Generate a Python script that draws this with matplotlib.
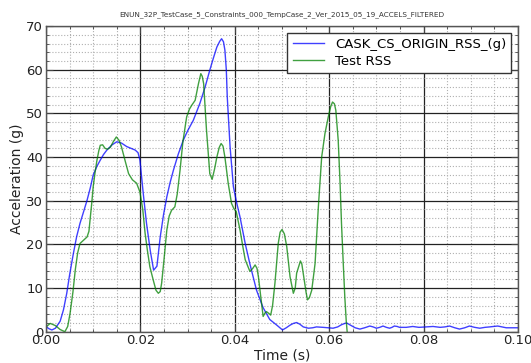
import matplotlib
matplotlib.use("Agg")
import matplotlib.pyplot as plt
from matplotlib.ticker import MultipleLocator

title = "ENUN_32P_TestCase_5_Constraints_000_TempCase_2_Ver_2015_05_19_ACCELS_FILTERED"

# CASK_CS_ORIGIN_RSS_(g)
t_cask = [0.000, 0.0006, 0.00125, 0.002, 0.003, 0.0037, 0.0044, 0.005, 0.0058, 0.0065,
          0.0072, 0.008, 0.0087, 0.0094, 0.010, 0.0108, 0.0115, 0.0122, 0.0129, 0.014,
          0.015, 0.016, 0.0171, 0.018, 0.0189, 0.0195, 0.0199, 0.0206, 0.0213, 0.0221,
          0.0228, 0.0235, 0.0242, 0.0249, 0.0256, 0.0263, 0.027, 0.028, 0.0291, 0.030,
          0.0312, 0.0326, 0.0337, 0.0347, 0.0355, 0.0362, 0.0368, 0.0372, 0.0376, 0.0379,
          0.0382, 0.0384, 0.0387, 0.039, 0.0397, 0.0404, 0.0411, 0.0422, 0.0432, 0.0446,
          0.046, 0.0474, 0.0489, 0.0501, 0.0509, 0.0517, 0.0524, 0.0531, 0.0538, 0.0545,
          0.0556, 0.0565, 0.0573, 0.0587, 0.0598, 0.0608, 0.0618, 0.0626, 0.0633, 0.0637,
          0.0645, 0.0655, 0.0665, 0.0675, 0.0686, 0.0693, 0.070, 0.0707, 0.0714, 0.0721,
          0.0728, 0.0733, 0.0738, 0.0744, 0.0749, 0.0763, 0.0777, 0.079, 0.0805, 0.082,
          0.0835, 0.0845, 0.0855, 0.0866, 0.0876, 0.0887, 0.0897, 0.0908, 0.0919, 0.093,
          0.094, 0.0948, 0.0957, 0.0966, 0.0975, 0.0988, 0.100]
y_cask = [1.2, 0.7, 0.4, 0.8, 2.4, 5.0, 8.8, 13.0, 17.9, 21.8,
          24.8, 27.6, 30.1, 33.0, 35.9, 37.9, 39.3, 40.6, 41.6, 42.8,
          43.5, 43.2, 42.4, 42.0, 41.6, 41.0, 39.3, 31.7, 24.8, 18.5,
          14.1, 15.0, 21.7, 26.8, 30.9, 34.2, 37.0, 40.6, 43.9, 46.0,
          48.4, 52.3, 56.0, 59.9, 62.8, 65.2, 66.5, 67.1, 66.4, 64.5,
          60.0, 53.8, 48.0, 42.3, 33.2, 29.5, 26.3, 20.2, 15.5, 9.5,
          5.5, 2.8, 1.5, 0.4, 0.9, 1.5, 1.9, 2.1, 1.7, 1.1,
          0.8, 0.9, 1.1, 1.0, 0.9, 0.8, 1.1, 1.6, 1.9, 2.0,
          1.5, 0.9, 0.6, 0.9, 1.3, 1.1, 0.8, 1.0, 1.3, 1.0,
          0.8, 1.0, 1.3, 1.2, 1.0, 1.0, 1.2, 1.0, 1.1, 1.2,
          1.0, 1.1, 1.3, 0.9, 0.6, 0.9, 1.3, 1.0, 0.8, 1.0,
          1.1, 1.2, 1.3, 1.1, 0.9, 0.9, 0.9]

# Test RSS
t_test = [0.000, 0.0009, 0.002, 0.003, 0.004, 0.0046, 0.0051, 0.0057, 0.0062, 0.0067,
          0.0072, 0.008, 0.0087, 0.0091, 0.0094, 0.0097, 0.010, 0.0104, 0.0108, 0.0112,
          0.0115, 0.012, 0.0125, 0.013, 0.0136, 0.0143, 0.0149, 0.0155, 0.016, 0.0168,
          0.0175, 0.0183, 0.0192, 0.0199, 0.0205, 0.021, 0.0215, 0.022, 0.0228, 0.0233,
          0.0238, 0.0242, 0.0245, 0.025, 0.0256, 0.0261, 0.0266, 0.0273, 0.0278, 0.0284,
          0.029, 0.0298, 0.0304, 0.0309, 0.0316, 0.0323, 0.0328, 0.0331, 0.0334, 0.0337,
          0.034, 0.0344, 0.0347, 0.0352, 0.0357, 0.0362, 0.0367, 0.0371, 0.0375, 0.0379,
          0.0386, 0.0393, 0.0398, 0.0403, 0.0411, 0.0417, 0.0422, 0.0432, 0.0438, 0.0443,
          0.0447, 0.045, 0.0455, 0.046, 0.0464, 0.0467, 0.0472, 0.0476, 0.048, 0.0485,
          0.0492, 0.0496, 0.050, 0.0505, 0.051, 0.0517, 0.0524, 0.0528, 0.0531, 0.0539,
          0.0542, 0.0546, 0.0551, 0.0554, 0.0558, 0.0563, 0.057, 0.0577, 0.0584, 0.0591,
          0.0598, 0.0603, 0.0607, 0.0611, 0.0614, 0.0619, 0.0623, 0.0626, 0.063, 0.0633,
          0.0636, 0.0638]
y_test = [1.1, 1.9, 1.4, 0.5, 0.0, 1.2, 4.2, 9.0, 14.1, 18.0,
          20.2, 21.0, 21.7, 23.0, 26.3, 29.5, 33.2, 36.5, 39.3, 41.5,
          42.7, 42.8, 42.0, 41.8, 42.2, 43.6, 44.6, 43.8, 42.3, 39.0,
          36.2, 34.8, 34.0, 32.0, 28.0, 22.5, 18.5, 14.9, 11.5, 9.5,
          8.8, 9.2, 11.1, 16.5, 23.3, 26.5, 27.8, 28.6, 31.5, 37.0,
          43.5, 49.2, 51.0, 51.9, 53.0, 56.8, 59.1, 58.5, 56.8, 51.5,
          46.2, 40.5, 36.2, 34.9, 37.2, 40.0, 42.2, 43.1, 42.5, 40.0,
          34.0, 29.4, 28.2, 27.5, 23.3, 19.5, 16.5, 13.8, 14.5, 15.3,
          14.5, 12.6, 8.0, 3.5, 4.3, 4.6, 4.2, 3.8, 6.0, 11.1,
          20.2, 22.8, 23.4, 22.4, 19.5, 12.6, 8.8, 10.0, 13.4, 16.2,
          15.5, 12.6, 9.0, 7.3, 7.8, 9.5, 15.6, 28.6, 40.0, 45.4,
          49.2, 51.5, 52.6, 52.2, 50.7, 43.9, 34.0, 24.8, 15.0, 8.0,
          2.5, 0.0]

fig = plt.figure(figsize=(5.31, 3.63), dpi=100)
ax = fig.add_axes([0.0866, 0.0862, 0.889, 0.842])

ax.plot(t_cask, y_cask, color=(0, 0, 1, 0.75), lw=1.0, label="CASK_CS_ORIGIN_RSS_(g)")
ax.plot(t_test, y_test, color=(0, 0.5, 0, 0.75), lw=1.0, label="Test RSS")

ax.set_xlim(0, 0.1)
ax.set_ylim(0, 70)
ax.xaxis.set_major_locator(MultipleLocator(0.02))
ax.xaxis.set_minor_locator(MultipleLocator(0.005))
ax.yaxis.set_major_locator(MultipleLocator(10))
ax.yaxis.set_minor_locator(MultipleLocator(2))
ax.xaxis.set_major_formatter(matplotlib.ticker.FormatStrFormatter("%.2f"))

ax.grid(which="major", color="#222222", linestyle="-", linewidth=0.9)
ax.grid(which="minor", color="#b0b0b0", linestyle=":", linewidth=0.8)
ax.set_axisbelow(True)
ax.tick_params(which="both", direction="in", top=True, right=True, colors="#444444",
               labelcolor="#222222", labelsize=9.5, pad=2)
ax.tick_params(which="major", length=5)
ax.tick_params(which="minor", length=2.5)
for s in ax.spines.values():
    s.set_color("#555555")
    s.set_linewidth(1.0)

ax.set_xlabel("Time (s)", fontsize=10, labelpad=1, color="#222222")
ax.set_ylabel("Acceleration (g)", fontsize=10, labelpad=2, color="#222222")
ax.set_title(title, fontsize=5.2, color="#333333", pad=7)

leg = ax.legend(loc="upper right", fontsize=9.5, fancybox=False, framealpha=1,
                borderaxespad=0.5, handlelength=2.4, borderpad=0.4, labelspacing=0.3)
leg.get_frame().set_edgecolor("#333333")
leg.get_frame().set_linewidth(1.0)

fig.savefig("out.png", dpi=100)
